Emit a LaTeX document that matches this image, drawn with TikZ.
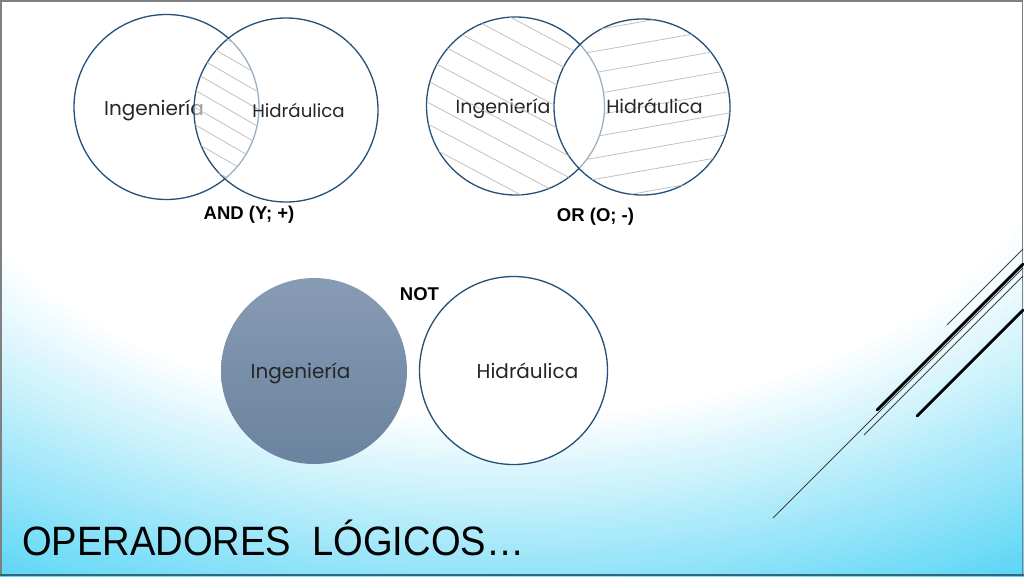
\documentclass[tikz,border=0pt]{standalone}
\usepackage{fontspec}
\setmainfont{Liberation Sans}
\newfontfamily\vennfont{Poppins}
\newfontfamily\titlefont[FakeStretch=0.93]{Liberation Sans}
\usetikzlibrary{positioning,calc}

\definecolor{vennblue}{RGB}{35,80,120}
\definecolor{hatchgray}{RGB}{190,190,190}
\definecolor{glowblue}{RGB}{85,212,245}
\definecolor{notfilltop}{RGB}{136,155,180}
\definecolor{notfillbot}{RGB}{106,131,158}
\definecolor{framegray}{RGB}{128,128,128}
\definecolor{frameteal}{RGB}{45,105,125}

\begin{document}
\begin{tikzpicture}[x=1pt, y=-1pt,
    venn/.style={circle, draw=vennblue, line width=1.3pt, inner sep=0pt, minimum size=#1},
    hatch/.style={draw=hatchgray, line width=0.75pt},
    word/.style={font=\vennfont\fontsize{#1}{#1}\selectfont, text=black!85, inner sep=0pt, anchor=base},
    oplabel/.style={font=\bfseries\fontsize{18.5}{18.5}\selectfont, inner sep=0pt, anchor=base},
    thinrule/.style={draw=black!75, line width=0.9pt},
    thickrule/.style={draw=black, line width=2.8pt, line cap=round}]

    % Page and background glow (white centre fading to blue)
    \useasboundingbox (0,0) rectangle (1024,576);
    \begin{scope}
        \clip (0,0) rectangle (1024,576);
        \fill[glowblue] (0,0) rectangle (1024,576);
        \foreach \i in {0,...,40}{
            \pgfmathsetmacro{\r}{1.8-0.02*\i}
            \pgfmathsetmacro{\p}{100-2.5*\i}
            \fill[glowblue!\p!white] (500,110) ellipse [x radius=560*\r, y radius=310*\r];
        }
    \end{scope}

    % Frame
    \draw[framegray, line width=1.5pt] (0.75,576) -- (0.75,0.75) -- (1022.6,0.75) -- (1022.6,576);
    \draw[frameteal, line width=2pt] (0,575) -- (1024,575);

    % Corner rules
    \draw[thinrule] (947,325) -- (1023,249);
    \draw[thickrule] (877,410) -- (1023,264);
    \draw[thinrule] (773,518) -- (1023,268);
    \draw[thinrule] (864,435) -- (1023,276);
    \draw[thickrule] (917,416) -- (1023,310);

    % AND (intersection hatched)
    \node[venn=185pt] (ing_and) at (166.5,107) {};
    \node[word=20] (ing_and_txt) at (154,115) {Ingeniería};
    \node[venn=184pt, fill=white, fill opacity=0.55] (hid_and) at (286,110) {};
    \begin{scope}
        \clip (ing_and.center) circle (92.5);
        \clip (hid_and.center) circle (92);
        \foreach \k in {-7,...,7}
            \draw[hatch, shift={(226,108)}, rotate=-30] (-120,\k*15) -- (120,\k*15);
    \end{scope}
    \node[word=18.2] (hid_and_txt) at (298.5,117) {Hidráulica};
    \node[oplabel] (and_lbl) at (249,219) {AND (Y; +)};

    % OR (both sides hatched, middle left blank)
    \node[venn=178pt] (ing_or) at (515.5,106) {};
    \node[word=19] (ing_or_txt) at (503,113) {Ingeniería};
    \node[venn=176pt, fill=white, fill opacity=0.55] (hid_or) at (642,107) {};
    \begin{scope}[even odd rule]
        \clip (ing_or.center) circle (89);
        \clip (ing_or.center) circle (89) (hid_or.center) circle (88);
        \foreach \k in {-6,...,6}
            \draw[hatch, shift={(ing_or.center)}, rotate=-28] (-120,\k*19) -- (120,\k*19);
    \end{scope}
    \begin{scope}[even odd rule]
        \clip (hid_or.center) circle (88);
        \clip (ing_or.center) circle (89) (hid_or.center) circle (88);
        \foreach \k in {-5,...,5}
            \draw[hatch, shift={(hid_or.center)}, rotate=10] (-120,\k*21) -- (120,\k*21);
    \end{scope}
    \node[word=19] (hid_or_txt) at (654.5,113) {Hidráulica};
    \node[oplabel] (or_lbl) at (595.5,221) {OR (O; -)};

    % NOT
    \node[circle, inner sep=0pt, minimum size=186pt, top color=notfilltop, bottom color=notfillbot] (ing_not) at (314,371) {};
    \node[word=20] (ing_not_txt) at (300.5,378) {Ingeniería};
    \node[venn=188pt, fill=white] (hid_not) at (513.5,370.5) {};
    \node[word=20] (hid_not_txt) at (527.5,378) {Hidráulica};
    \node[oplabel] (not_lbl) at (419.5,300) {NOT};

    % Title
    \node[font=\titlefont\fontsize{41}{41}\selectfont, anchor=base west, inner sep=0pt] (title) at (22,555) {OPERADORES\ \ LÓGICOS…};

\end{tikzpicture}
\end{document}
